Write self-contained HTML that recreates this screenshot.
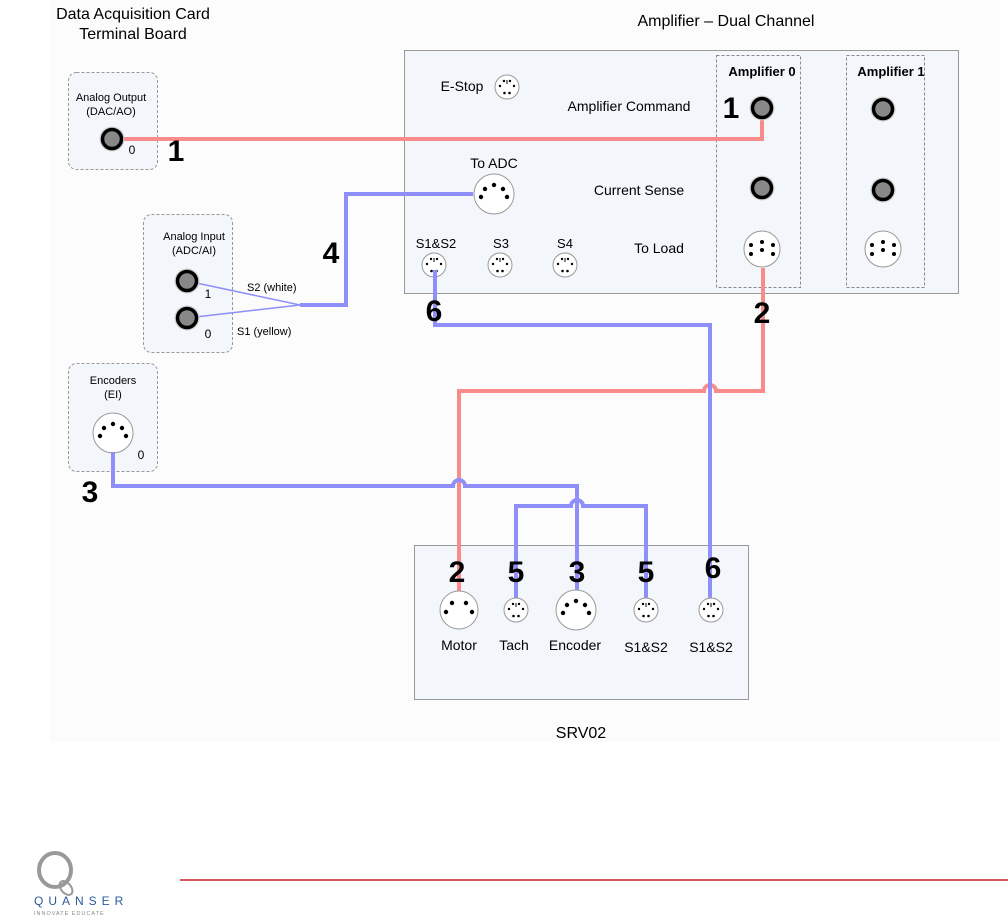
<!DOCTYPE html>
<html><head><meta charset="utf-8"><style>
body{margin:0;background:#fff}
svg{display:block;font-family:"Liberation Sans",Arial,sans-serif}
</style></head><body>
<svg width="1008" height="921" viewBox="0 0 1008 921" xmlns="http://www.w3.org/2000/svg">
<defs>
<g id="jack"><circle r="12.5" fill="#ccc"/><circle r="9.5" fill="#888" stroke="#000" stroke-width="3.5"/></g>
<g id="din6"><circle r="18" fill="#fff" stroke="#999" stroke-width="1"/>
<circle cx="0" cy="-7" r="2"/><circle cx="-11" cy="-4" r="2"/><circle cx="11" cy="-4" r="2"/><circle cx="0" cy="1" r="2"/><circle cx="-11" cy="5" r="2"/><circle cx="11" cy="5" r="2"/></g>
<g id="din5"><circle r="20" fill="#fff" stroke="#999" stroke-width="1"/>
<circle cx="0" cy="-9" r="2.2"/><circle cx="-9" cy="-5" r="2.2"/><circle cx="9" cy="-5" r="2.2"/><circle cx="-13" cy="3" r="2.2"/><circle cx="13" cy="3" r="2.2"/></g>
<g id="din4"><circle r="19" fill="#fff" stroke="#999" stroke-width="1"/>
<circle cx="-7" cy="-7" r="2.2"/><circle cx="7" cy="-7" r="2.2"/><circle cx="-13" cy="2" r="2.2"/><circle cx="13" cy="2" r="2.2"/></g>
<g id="mini"><circle r="12" fill="#fff" stroke="#999" stroke-width="1"/>
<circle cx="-3" cy="-6" r="1.2"/><circle cx="3" cy="-6" r="1.2"/><rect x="-0.5" y="-7" width="1" height="4"/><circle cx="-7" cy="-1" r="1.2"/><circle cx="7" cy="-1" r="1.2"/><circle cx="-2.5" cy="6" r="1.3"/><circle cx="2.5" cy="6" r="1.3"/></g>
</defs>

<rect x="50" y="0" width="950" height="742" fill="#fcfcfc"/>

<text x="133" y="19" font-size="16" text-anchor="middle">Data Acquisition Card</text>
<text x="133" y="39" font-size="16" text-anchor="middle">Terminal Board</text>
<text x="726" y="26" font-size="16" text-anchor="middle">Amplifier – Dual Channel</text>

<rect x="404.5" y="50.5" width="554" height="243" fill="#f3f6fb" stroke="#999"/>
<rect x="716.5" y="55.5" width="84" height="232" fill="none" stroke="#888" stroke-dasharray="3,2"/>
<rect x="846.5" y="55.5" width="78" height="232" fill="none" stroke="#888" stroke-dasharray="3,2"/>
<text x="762" y="76" font-size="13" font-weight="bold" text-anchor="middle">Amplifier 0</text>
<text x="891" y="76" font-size="13" font-weight="bold" text-anchor="middle">Amplifier 1</text>
<text x="462" y="91" font-size="14" text-anchor="middle">E-Stop</text>
<use href="#mini" x="507" y="87"/>
<text x="629" y="111" font-size="14" text-anchor="middle">Amplifier Command</text>
<text x="494" y="168" font-size="14" text-anchor="middle">To ADC</text>
<text x="639" y="195" font-size="14" text-anchor="middle">Current Sense</text>
<text x="436" y="248" font-size="13" text-anchor="middle">S1&amp;S2</text>
<text x="501" y="248" font-size="13" text-anchor="middle">S3</text>
<text x="565" y="248" font-size="13" text-anchor="middle">S4</text>
<text x="659" y="253" font-size="14" text-anchor="middle">To Load</text>
<use href="#din5" x="494" y="194"/>
<use href="#mini" x="434" y="265"/>
<use href="#mini" x="500" y="265"/>
<use href="#mini" x="565" y="265"/>
<use href="#din6" x="762" y="249"/>
<use href="#din6" x="883" y="249"/>
<use href="#jack" x="883" y="109"/>
<use href="#jack" x="762" y="188"/>
<use href="#jack" x="883" y="190"/>

<rect x="68.5" y="72.5" width="89" height="97" rx="8" fill="#f3f6fb" stroke="#999" stroke-dasharray="3,2"/>
<text x="111" y="101" font-size="11" text-anchor="middle">Analog Output</text>
<text x="111" y="115" font-size="11" text-anchor="middle">(DAC/AO)</text>
<text x="132" y="154" font-size="12" text-anchor="middle">0</text>
<rect x="143.5" y="214.5" width="89" height="138" rx="8" fill="#f3f6fb" stroke="#999" stroke-dasharray="3,2"/>
<text x="194" y="240" font-size="11" text-anchor="middle">Analog Input</text>
<text x="194" y="254" font-size="11" text-anchor="middle">(ADC/AI)</text>
<text x="208" y="298" font-size="12" text-anchor="middle">1</text>
<text x="208" y="338" font-size="12" text-anchor="middle">0</text>
<rect x="68.5" y="363.5" width="89" height="108" rx="8" fill="#f3f6fb" stroke="#999" stroke-dasharray="3,2"/>
<text x="113" y="384" font-size="11" text-anchor="middle">Encoders</text>
<text x="113" y="398" font-size="11" text-anchor="middle">(EI)</text>
<text x="141" y="459" font-size="12" text-anchor="middle">0</text>
<use href="#din5" x="113" y="433"/>
<text x="247" y="291" font-size="11">S2 (white)</text>
<text x="237" y="335" font-size="11">S1 (yellow)</text>

<rect x="414.5" y="545.5" width="334" height="154" fill="#f3f6fb" stroke="#999"/>
<text x="581" y="738" font-size="16" text-anchor="middle">SRV02</text>
<text x="459" y="650" font-size="14" text-anchor="middle">Motor</text>
<text x="514" y="650" font-size="14" text-anchor="middle">Tach</text>
<text x="575" y="650" font-size="14" text-anchor="middle">Encoder</text>
<text x="646" y="652" font-size="14" text-anchor="middle">S1&amp;S2</text>
<text x="711" y="652" font-size="14" text-anchor="middle">S1&amp;S2</text>

<g fill="none">
<path d="M112,139 H762 V110" stroke="#f98b8b" stroke-width="4"/>
<path d="M763,268 V391 H716 a6,6 0 0 0 -12,0 H459 V600" stroke="#f98b8b" stroke-width="4"/>
<path d="M473,194 H346 V305 H300" stroke="#8f8ff9" stroke-width="4"/>
<path d="M187,281 L300,305 L187,318" stroke="#8f8ff9" stroke-width="1.5"/>
<path d="M435,270 V325 H710 V600" stroke="#8f8ff9" stroke-width="4"/>
<path d="M113,452 V486 H453 a6,6 0 0 1 12,0 H577 V600" stroke="#8f8ff9" stroke-width="4"/>
<path d="M516,600 V506 H571 a6,6 0 0 1 12,0 H646 V600" stroke="#8f8ff9" stroke-width="4"/>
</g>
<use href="#jack" x="112" y="139"/>
<use href="#jack" x="187" y="281"/>
<use href="#jack" x="187" y="318"/>
<use href="#jack" x="762" y="108"/>

<use href="#din4" x="459" y="610"/>
<use href="#mini" x="516" y="610"/>
<use href="#din5" x="576" y="610"/>
<use href="#mini" x="646" y="610"/>
<use href="#mini" x="711" y="610"/>

<g font-size="30" font-weight="bold" text-anchor="middle">
<text x="176" y="161">1</text>
<text x="731" y="118">1</text>
<text x="331" y="263">4</text>
<text x="434" y="321">6</text>
<text x="762" y="323">2</text>
<text x="90" y="502">3</text>
<text x="457" y="582">2</text>
<text x="516" y="582">5</text>
<text x="577" y="582">3</text>
<text x="646" y="582">5</text>
<text x="713" y="578">6</text>
</g>

<line x1="180" y1="880" x2="1008" y2="880" stroke="#cc2229" stroke-width="1.5"/>
<ellipse cx="55" cy="870" rx="16" ry="17" fill="none" stroke="#999" stroke-width="4"/>
<ellipse cx="66" cy="888" rx="5" ry="8" fill="none" stroke="#999" stroke-width="2" transform="rotate(-40 66 888)"/>
<text x="34" y="905" font-size="12" fill="#2a5a9a" letter-spacing="5">QUANSER</text>
<text x="34" y="915" font-size="5.5" fill="#888" letter-spacing="1">INNOVATE EDUCATE</text>
</svg>
</body></html>
